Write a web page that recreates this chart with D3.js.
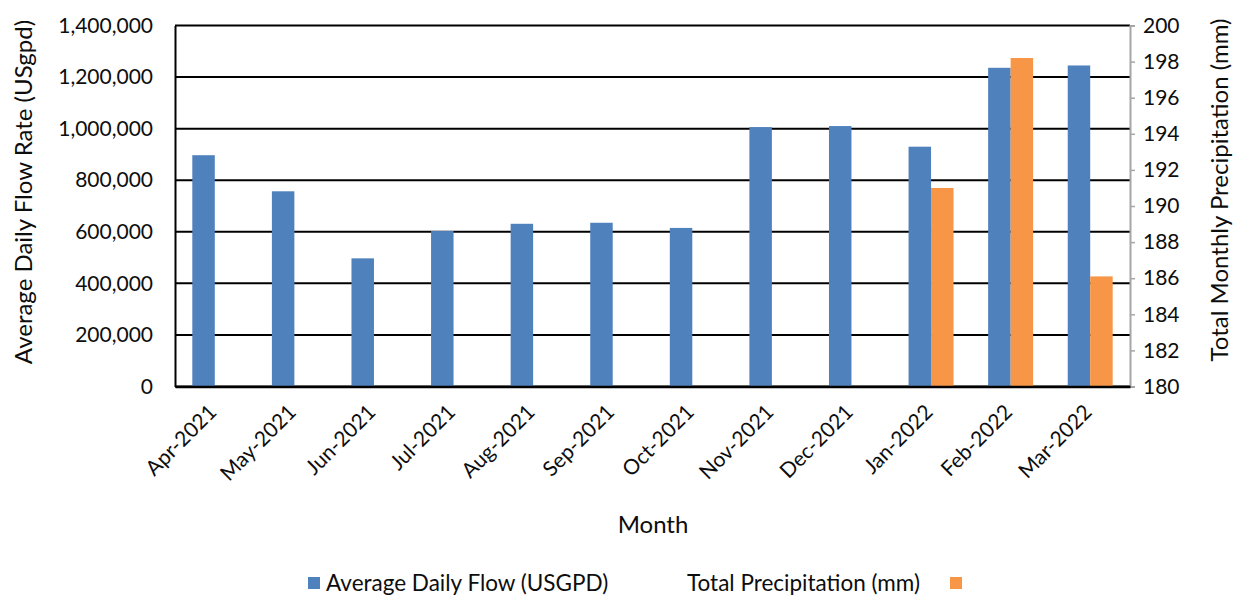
<!DOCTYPE html>
<html lang="en">
<head>
<meta charset="utf-8">
<title>Average Daily Flow and Total Precipitation</title>
<script src="https://cdn.jsdelivr.net/npm/d3@7"></script>
<style>
  body { margin: 0; background: #fff; }
  text { font-family: Lato, "Noto Sans", sans-serif; fill: #0d0d0d; }
</style>
</head>
<body>
<script>
// data
var months = ["Apr-2021", "May-2021", "Jun-2021", "Jul-2021", "Aug-2021", "Sep-2021",
              "Oct-2021", "Nov-2021", "Dec-2021", "Jan-2022", "Feb-2022", "Mar-2022"];
var flow = [897000, 757000, 497000, 603000, 631000, 635000,
            615000, 1006000, 1010000, 930000, 1236000, 1245000];
var precip = [null, null, null, null, null, null, null, null, null, 191.0, 198.2, 186.1];
var flowTicks = [0, 200000, 400000, 600000, 800000, 1000000, 1200000, 1400000];
var precipTicks = [180, 182, 184, 186, 188, 190, 192, 194, 196, 198, 200];

var w = 1238, h = 597;
// plot box (note: "top" is taken by window.top, so use other names)
var plotLeft = 175, plotRight = 1130, plotTop = 25.5, plotBottom = 386.5;

var svg = d3.select("body").append("svg")
  .attr("width", w)
  .attr("height", h);

var x = d3.scaleBand().domain(months).range([plotLeft, plotRight])
  .paddingInner(0.435).paddingOuter(0.2175);
var xs = d3.scaleBand().domain(["flow", "precip"]).range([0, x.bandwidth()]);
var y = d3.scaleLinear().domain([0, 1400000]).range([plotBottom, plotTop]);
var y2 = d3.scaleLinear().domain([180, 200]).range([plotBottom, plotTop]);

// gridlines
svg.append("g")
  .selectAll("line")
  .data(flowTicks)
  .enter().append("line")
  .attr("x1", plotLeft).attr("x2", plotRight)
  .attr("y1", function(d) { return y(d); })
  .attr("y2", function(d) { return y(d); })
  .attr("stroke", "#000")
  .attr("stroke-width", 2);

// flow bars
svg.append("g")
  .selectAll("rect")
  .data(months)
  .enter().append("rect")
  .attr("x", function(d) { return x(d) + xs("flow"); })
  .attr("y", function(d, i) { return y(flow[i]); })
  .attr("width", xs.bandwidth())
  .attr("height", function(d, i) { return plotBottom - y(flow[i]); })
  .attr("fill", "#4F81BD");

// precipitation bars
svg.append("g")
  .selectAll("rect")
  .data(months.filter(function(d, i) { return precip[i] != null; }))
  .enter().append("rect")
  .attr("x", function(d) { return x(d) + xs("precip"); })
  .attr("y", function(d) { return y2(precip[months.indexOf(d)]); })
  .attr("width", xs.bandwidth())
  .attr("height", function(d) { return plotBottom - y2(precip[months.indexOf(d)]); })
  .attr("fill", "#F79646");

// left axis
var yAxis = d3.axisLeft(y).tickValues(flowTicks).tickSize(0).tickPadding(22)
  .tickFormat(d3.format(","));
var gy = svg.append("g")
  .attr("transform", "translate(" + plotLeft + ",0)")
  .call(yAxis);
gy.select(".domain").attr("stroke", "#000").attr("stroke-width", 2);
gy.selectAll("text").style("font-size", "21px");

// right axis
var y2Axis = d3.axisRight(y2).tickValues(precipTicks).tickSize(5).tickPadding(8)
  .tickFormat(d3.format("d"));
var gy2 = svg.append("g")
  .attr("transform", "translate(" + plotRight + ",0)")
  .call(y2Axis);
gy2.select(".domain").attr("stroke", "#a6a6a6").attr("stroke-width", 2);
gy2.selectAll(".tick line").attr("stroke", "#a6a6a6").attr("stroke-width", 1.5);
gy2.selectAll("text").style("font-size", "21px");

// bottom axis
var xAxis = d3.axisBottom(x).tickSize(0).tickPadding(0);
var gx = svg.append("g")
  .attr("transform", "translate(0," + plotBottom + ")")
  .call(xAxis);
gx.select(".domain").attr("stroke", "#000").attr("stroke-width", 2.5);
gx.selectAll("text")
  .style("font-size", "21px")
  .style("text-anchor", "end")
  .attr("dy", "0")
  .attr("y", 0)
  .attr("transform", "translate(3,27) rotate(-45)");

// axis titles
svg.append("text")
  .attr("transform", "translate(32," + ((plotTop + plotBottom) / 2 - 14) + ") rotate(-90)")
  .style("text-anchor", "middle")
  .style("font-size", "24px")
  .text("Average Daily Flow Rate (USgpd)");

svg.append("text")
  .attr("transform", "translate(1228," + ((plotTop + plotBottom) / 2 - 16) + ") rotate(-90)")
  .style("text-anchor", "middle")
  .style("font-size", "24px")
  .text("Total Monthly Precipitation (mm)");

svg.append("text")
  .attr("x", 653).attr("y", 533)
  .style("text-anchor", "middle")
  .style("font-size", "24px")
  .text("Month");

// legend
svg.append("rect")
  .attr("x", 308).attr("y", 577).attr("width", 12).attr("height", 12)
  .attr("fill", "#4F81BD");
svg.append("text")
  .attr("x", 326).attr("y", 591)
  .style("font-size", "22.5px")
  .text("Average Daily Flow (USGPD)");
svg.append("text")
  .attr("x", 687).attr("y", 591)
  .style("font-size", "22.5px")
  .text("Total Precipitation (mm)");
svg.append("rect")
  .attr("x", 950).attr("y", 577).attr("width", 12).attr("height", 12)
  .attr("fill", "#F79646");
</script>
</body>
</html>
